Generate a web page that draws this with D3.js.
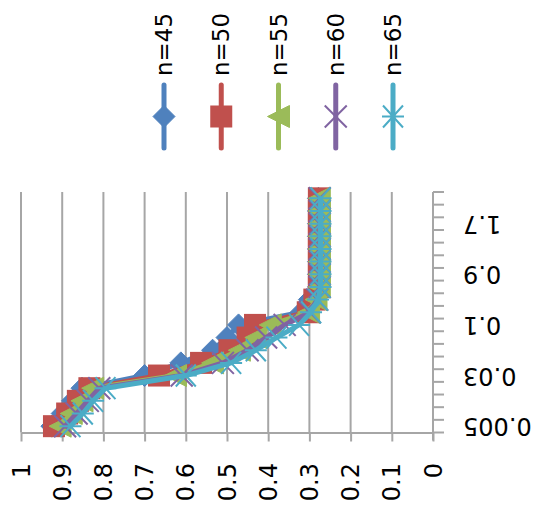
<!DOCTYPE html>
<html>
<head>
<meta charset="utf-8">
<script src="https://cdn.jsdelivr.net/npm/d3@7"></script>
<style>
  body { margin: 0; background: #fff; }
  text { font-family: "DejaVu Sans", Verdana, sans-serif; fill: #000; }
</style>
</head>
<body>
<div id="chart"></div>
<script>
// categories (shown every 4th) and series values
let categories = ["0.005", "0.01", "0.015", "0.02", "0.03", "0.04", "0.05", "0.07", "0.1", "0.3", "0.5", "0.7", "0.9", "1.1", "1.3", "1.5", "1.7", "1.9", "2.1"];
let seriesNames = ["n=45", "n=50", "n=55", "n=60", "n=65"];
let n45 = [0.925, 0.9, 0.875, 0.852, 0.70, 0.612, 0.535, 0.5, 0.472, 0.32, 0.30, 0.278, 0.278, 0.278, 0.278, 0.278, 0.278, 0.278, 0.278];
let n50 = [0.92, 0.888, 0.862, 0.834, 0.665, 0.563, 0.494, 0.45, 0.432, 0.304, 0.288, 0.277, 0.277, 0.277, 0.277, 0.277, 0.277, 0.277, 0.277];
let n55 = [0.905, 0.878, 0.852, 0.826, 0.625, 0.535, 0.47, 0.43, 0.395, 0.302, 0.284, 0.276, 0.276, 0.276, 0.276, 0.276, 0.276, 0.276, 0.276];
let n60 = [0.893, 0.865, 0.838, 0.81, 0.61, 0.51, 0.45, 0.405, 0.36, 0.299, 0.281, 0.275, 0.275, 0.275, 0.275, 0.275, 0.275, 0.275, 0.275];
let n65 = [0.88, 0.85, 0.825, 0.795, 0.6, 0.49, 0.43, 0.38, 0.325, 0.296, 0.279, 0.273, 0.273, 0.273, 0.273, 0.273, 0.273, 0.273, 0.273];
let valueTicks = [0, 0.1, 0.2, 0.3, 0.4, 0.5, 0.6, 0.7, 0.8, 0.9, 1];
let labelEvery = 4;

let colors = ["#4f81bd", "#c0504d", "#9bbb59", "#8064a2", "#4bacc6"];
let markers = ["diamond", "square", "triangle", "x", "star"];
let allSeries = [n45, n50, n55, n60, n65];

let width = 535, height = 508;
let plot = { left: 21, right: 433, top: 192, bottom: 432.5 };
let gridColor = "#a6a6a6";

let svg = d3.select("#chart").append("svg")
	.attr("width", width)
	.attr("height", height);

// value axis runs right-to-left, categories bottom-to-top (chart turned on its side)
let x = d3.scaleLinear().domain([0, 1]).range([plot.right, plot.left]);
let y = d3.scaleBand().domain(categories).range([plot.bottom, plot.top]).padding(0);
let cy = c => y(c) + y.bandwidth() / 2;

// gridlines
svg.append("g").selectAll("line")
	.data(valueTicks.filter(d => d > 0))
	.enter().append("line")
	.attr("x1", d => x(d)).attr("x2", d => x(d))
	.attr("y1", plot.top).attr("y2", plot.bottom)
	.attr("stroke", gridColor).attr("stroke-width", 2);

// value axis (bottom)
let xAxis = svg.append("g")
	.attr("transform", "translate(0," + plot.bottom + ")")
	.call(d3.axisBottom(x).tickValues(valueTicks).tickSize(9).tickSizeOuter(0)
		.tickFormat(d => String(+d.toFixed(1))));
xAxis.select(".domain").attr("stroke", gridColor).attr("stroke-width", 2);
xAxis.selectAll(".tick line").attr("stroke", gridColor).attr("stroke-width", 2);
xAxis.selectAll(".tick text")
	.attr("x", 0).attr("y", 0).attr("dy", null)
	.attr("transform", "translate(0,30.5) rotate(-90)")
	.attr("text-anchor", "end")
	.attr("dominant-baseline", "central")
	.style("font-family", '"DejaVu Sans", sans-serif')
	.style("font-size", "24px")
	.attr("fill", "#000");

// category axis (right)
let catAxis = svg.append("g");
catAxis.append("line")
	.attr("x1", plot.right).attr("x2", plot.right)
	.attr("y1", plot.top).attr("y2", plot.bottom + 8)
	.attr("stroke", gridColor).attr("stroke-width", 2);
let boundaries = categories.map(c => y(c)).concat([y(categories[0]) + y.bandwidth()]);
catAxis.selectAll(".ctick")
	.data(boundaries)
	.enter().append("line")
	.attr("class", "ctick")
	.attr("x1", plot.right).attr("x2", plot.right + 11)
	.attr("y1", d => d).attr("y2", d => d)
	.attr("stroke", gridColor).attr("stroke-width", 2);
catAxis.selectAll(".clabel")
	.data(categories.filter((c, i) => i % labelEvery === 0))
	.enter().append("text")
	.attr("class", "clabel")
	.attr("transform", d => "translate(" + (plot.right + 30) + "," + cy(d) + ") rotate(180)")
	.attr("text-anchor", "end")
	.attr("dominant-baseline", "central")
	.style("font-size", "24px")
	.text(d => d);

// marker drawing
function drawMarker(g, type, color) {
	let r = 11;
	if (type === "diamond") {
		g.append("path").attr("d", `M0,${-r}L${r},0L0,${r}L${-r},0Z`)
			.attr("fill", color).attr("stroke", color).attr("stroke-width", 1);
	} else if (type === "square") {
		g.append("rect").attr("x", -r).attr("y", -r).attr("width", 2 * r).attr("height", 2 * r)
			.attr("fill", color);
	} else if (type === "triangle") {
		g.append("path").attr("d", `M${-r},0L${r},${-r}L${r},${r}Z`)
			.attr("fill", color).attr("stroke", color).attr("stroke-width", 1);
	} else if (type === "x") {
		g.append("path").attr("d", `M${-r},${-r}L${r},${r}M${-r},${r}L${r},${-r}`)
			.attr("stroke", color).attr("stroke-width", 2).attr("fill", "none");
	} else {
		g.append("path").attr("d", `M${-r + 1},${-r}L${r - 1},${r}M${-r + 1},${r}L${r - 1},${-r}M${-r},0L${r},0`)
			.attr("stroke", color).attr("stroke-width", 2).attr("fill", "none");
	}
}

let line = d3.line()
	.x(d => x(d.v))
	.y(d => cy(d.c));

allSeries.forEach((vals, s) => {
	let pts = vals.map((v, i) => ({ c: categories[i], v: v }));
	let g = svg.append("g");
	g.append("path")
		.datum(pts)
		.attr("d", line)
		.attr("fill", "none")
		.attr("stroke", colors[s])
		.attr("stroke-width", 5)
		.attr("stroke-linejoin", "round")
		.attr("stroke-linecap", "round");
	pts.forEach(p => {
		let m = g.append("g").attr("transform", "translate(" + x(p.v) + "," + cy(p.c) + ")");
		drawMarker(m, markers[s], colors[s]);
	});
});

// legend (top)
let legendX = d3.scalePoint().domain(seriesNames).range([164, 393]);
let legend = svg.append("g");
seriesNames.forEach((name, s) => {
	let lg = legend.append("g").attr("transform", "translate(" + legendX(name) + ",0)");
	lg.append("line")
		.attr("x1", 0).attr("x2", 0).attr("y1", 85).attr("y2", 148)
		.attr("stroke", colors[s]).attr("stroke-width", 5).attr("stroke-linecap", "round");
	drawMarker(lg.append("g").attr("transform", "translate(0,116.5)"), markers[s], colors[s]);
	lg.append("text")
		.attr("transform", "translate(0,76) rotate(-90)")
		.attr("text-anchor", "start")
		.attr("dominant-baseline", "central")
		.style("font-size", "23px")
		.text(name);
});
</script>
</body>
</html>
